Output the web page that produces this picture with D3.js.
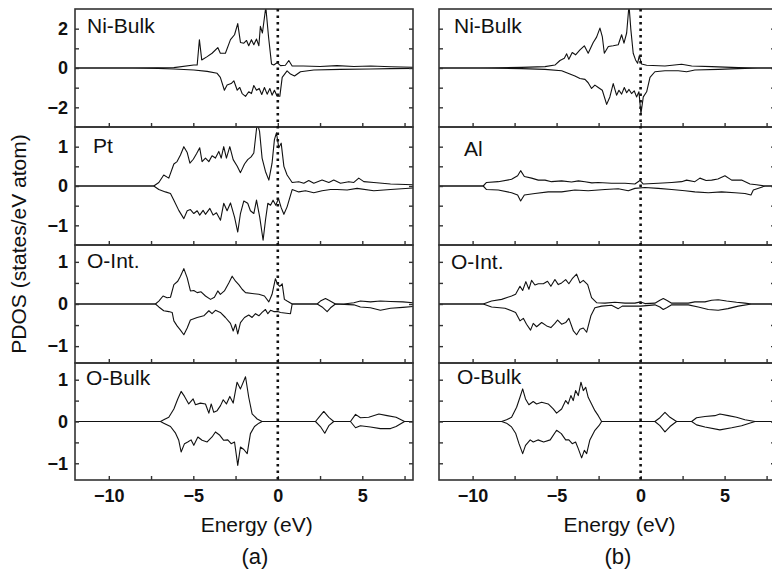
<!DOCTYPE html>
<html lang="en">
<head>
<meta charset="UTF-8">
<title>PDOS</title>
<script src="https://d3js.org/d3.v7.min.js"></script>
<style>
  body { margin: 0; background: #fff; }
  svg { display: block; background: #fff; }
  text { font-family: "Liberation Sans", Arial, Helvetica, sans-serif; fill: #111; }
  .tick text { font-size: 18px; font-weight: bold; }
  .tick line { stroke: #333; stroke-width: 1.4; }
  .curve { fill: none; stroke: #111; stroke-width: 1.1; stroke-linejoin: round; }
  .frame { fill: none; stroke: #333; stroke-width: 1.6; }
  .panel-label { font-size: 21px; }
  .axis-title { font-size: 21px; }
  .tag { font-size: 22px; }
</style>
</head>
<body>
<svg width="772" height="570"></svg>
<script>
// ---- data: [energy (eV), PDOS] ----
// column (a)
var niBulkA_up = [[-12,0],[-8.6,0],[-7.1,0.01],[-6.15,0.02],[-4.97,0.15],[-4.77,0.15],[-4.64,1.44],[-4.5,0.41],[-4.18,0.58],[-3.89,0.75],[-3.55,1.04],[-3.4,0.75],[-3.1,0.75],[-2.8,1.44],[-2.56,1.69],[-2.37,2.26],[-2.21,1.3],[-2.01,1.26],[-1.85,1.4],[-1.72,1.13],[-1.56,1.44],[-1.42,1.18],[-1.26,1.47],[-1.12,1.13],[-1.03,2.12],[-0.91,1.78],[-0.71,3.1],[-0.55,1.6],[-0.37,0.2],[-0.24,0.15],[-0.04,0.27],[0.16,0.12],[0.45,0.14],[0.65,0.38],[0.85,0.1],[1.5,0.1],[2.5,0.08],[3.5,0.12],[4.5,0.08],[5.5,0.1],[6.7,0.06],[8,0.04]];
var niBulkA_dn = [[-12,0],[-8.6,0],[-7.1,-0.02],[-6.15,-0.05],[-4.97,-0.1],[-4.18,-0.17],[-3.59,-0.27],[-3.4,-0.48],[-3.16,-1.13],[-3.0,-0.87],[-2.76,-0.79],[-2.6,-0.65],[-2.4,-1.13],[-2.25,-0.99],[-2.11,-1.3],[-1.91,-1.44],[-1.72,-1.21],[-1.56,-1.3],[-1.42,-0.89],[-1.26,-1.13],[-1.1,-1.04],[-0.95,-1.35],[-0.79,-0.99],[-0.63,-1.33],[-0.47,-1.04],[-0.34,-1.38],[-0.2,-1.13],[-0.04,-1.44],[0.12,-1.44],[0.26,-0.48],[0.55,-0.15],[0.75,-0.31],[0.99,-0.41],[1.34,-0.19],[2.13,-0.1],[3.7,-0.07],[5.5,-0.05],[6.67,-0.03],[8,-0.02]];
var ptA_up = [[-12,0],[-7.34,0],[-7.04,0.09],[-6.75,0.28],[-6.45,0.2],[-6.15,0.56],[-5.96,0.62],[-5.76,0.79],[-5.56,1.0],[-5.36,0.85],[-5.2,0.58],[-5.0,0.68],[-4.81,0.82],[-4.62,0.97],[-4.48,0.62],[-4.28,0.71],[-4.08,0.62],[-3.89,0.77],[-3.69,0.71],[-3.49,0.88],[-3.35,0.71],[-3.2,1.0],[-3.04,0.71],[-2.84,1.0],[-2.64,0.67],[-2.4,0.5],[-2.21,0.34],[-1.97,0.56],[-1.78,0.67],[-1.58,0.74],[-1.42,0.84],[-1.22,1.6],[-1.08,1.39],[-0.93,0.71],[-0.73,0.37],[-0.53,0.15],[-0.34,0.58],[-0.2,1.18],[-0.08,1.35],[0.06,0.97],[0.2,1.09],[0.36,0.5],[0.55,0.28],[0.85,0.09],[1.24,0.11],[1.54,0.07],[1.83,0.14],[2.13,0.07],[2.62,0.15],[3.02,0.09],[3.31,0.15],[3.71,0.07],[4.2,0.11],[4.5,0.09],[4.79,0.2],[5.09,0.11],[5.68,0.09],[6.67,0.05],[8,0.03]];
var ptA_dn = [[-12,0],[-7.34,0],[-7.04,-0.09],[-6.65,-0.15],[-6.35,-0.19],[-6.15,-0.36],[-5.86,-0.62],[-5.56,-0.83],[-5.36,-0.63],[-5.17,-0.6],[-4.97,-0.7],[-4.77,-0.63],[-4.62,-0.74],[-4.42,-0.62],[-4.28,-0.72],[-4.02,-0.57],[-3.83,-0.74],[-3.63,-0.68],[-3.39,-0.87],[-3.2,-0.44],[-3.0,-0.63],[-2.8,-0.43],[-2.56,-0.79],[-2.37,-1.17],[-2.21,-0.7],[-2.01,-0.38],[-1.78,-0.44],[-1.62,-0.63],[-1.42,-0.7],[-1.26,-0.36],[-1.07,-0.79],[-0.87,-1.38],[-0.73,-0.87],[-0.59,-0.44],[-0.43,-0.49],[-0.28,-0.36],[-0.12,-0.49],[0.04,-0.32],[0.2,-0.55],[0.36,-0.72],[0.55,-0.53],[0.85,-0.09],[1.24,-0.15],[1.64,-0.12],[2.13,-0.17],[2.62,-0.12],[3.12,-0.09],[3.51,-0.09],[4.1,-0.1],[4.69,-0.06],[5.68,-0.12],[6.67,-0.09],[8,-0.05]];
var oIntA_up = [[-12,0],[-7.24,0],[-7.04,0.07],[-6.79,0.19],[-6.55,0.15],[-6.35,0.16],[-6.15,0.46],[-5.92,0.54],[-5.76,0.66],[-5.56,0.84],[-5.36,0.62],[-5.17,0.31],[-4.97,0.32],[-4.77,0.27],[-4.54,0.29],[-4.28,0.19],[-3.98,0.11],[-3.75,0.16],[-3.55,0.31],[-3.4,0.23],[-3.16,0.31],[-2.9,0.5],[-2.7,0.66],[-2.5,0.54],[-2.31,0.46],[-2.11,0.35],[-1.91,0.27],[-1.52,0.25],[-1.12,0.23],[-0.79,0.19],[-0.53,0.05],[-0.34,0.23],[-0.14,0.6],[0,0.46],[0.12,0.42],[0.26,0.48],[0.39,0.11],[0.55,0.07],[0.85,0],[2.33,0],[2.52,0.07],[2.82,0.13],[3.02,0.09],[3.41,0],[3.91,0],[4.5,0.03],[4.89,0.07],[5.48,0.05],[6.07,0.07],[6.67,0.06],[7.4,0.05],[8,0.03]];
var oIntA_dn = [[-12,0],[-7.24,0],[-7.04,-0.07],[-6.75,-0.16],[-6.45,-0.18],[-6.25,-0.2],[-6.15,-0.4],[-5.96,-0.52],[-5.76,-0.62],[-5.56,-0.73],[-5.36,-0.57],[-5.17,-0.38],[-4.77,-0.32],[-4.38,-0.28],[-4.08,-0.16],[-3.89,-0.23],[-3.69,-0.15],[-3.4,-0.2],[-3.1,-0.32],[-2.8,-0.46],[-2.64,-0.64],[-2.5,-0.48],[-2.37,-0.71],[-2.21,-0.44],[-1.97,-0.32],[-1.72,-0.26],[-1.52,-0.32],[-1.32,-0.23],[-1.12,-0.28],[-0.93,-0.2],[-0.73,-0.13],[-0.59,-0.23],[-0.43,-0.15],[-0.24,-0.18],[0,-0.18],[0.16,-0.2],[0.75,-0.23],[0.85,0],[2.33,0],[2.62,-0.07],[2.92,-0.18],[3.12,-0.09],[3.41,0],[4.5,-0.02],[4.89,-0.07],[5.48,-0.09],[6.07,-0.15],[6.67,-0.1],[7.4,-0.08],[8,-0.06]];
var oBulkA_up = [[-12,0],[-6.94,0],[-6.75,0.04],[-6.45,0.1],[-6.15,0.3],[-5.92,0.54],[-5.72,0.72],[-5.52,0.6],[-5.27,0.42],[-5.01,0.54],[-4.87,0.4],[-4.58,0.44],[-4.28,0.42],[-4.08,0.2],[-3.94,0.42],[-3.79,0.22],[-3.59,0.26],[-3.39,0.38],[-3.23,0.52],[-3.04,0.42],[-2.84,0.6],[-2.64,0.44],[-2.41,0.94],[-2.21,0.78],[-1.91,1.07],[-1.72,0.58],[-1.52,0.18],[-1.22,0.06],[-0.93,0],[2.23,0],[2.43,0.1],[2.72,0.24],[3.02,0.1],[3.31,0],[4.3,0],[4.6,0.17],[4.89,0.09],[5.38,0.1],[5.98,0.18],[6.47,0.14],[7.0,0.1],[7.5,0],[8,0]];
var oBulkA_dn = [[-12,0],[-6.94,0],[-6.75,-0.04],[-6.35,-0.12],[-6.05,-0.28],[-5.86,-0.45],[-5.72,-0.73],[-5.52,-0.53],[-5.33,-0.49],[-5.13,-0.44],[-4.97,-0.57],[-4.73,-0.37],[-4.48,-0.45],[-4.18,-0.49],[-3.89,-0.37],[-3.69,-0.25],[-3.43,-0.33],[-3.2,-0.45],[-2.96,-0.44],[-2.76,-0.53],[-2.56,-0.49],[-2.37,-1.05],[-2.21,-0.61],[-2.01,-0.67],[-1.81,-0.77],[-1.62,-0.29],[-1.38,-0.12],[-1.12,-0.04],[-0.93,0],[2.23,0],[2.52,-0.12],[2.78,-0.28],[3.02,-0.1],[3.31,0],[4.3,0],[4.6,-0.15],[4.89,-0.1],[5.48,-0.13],[6.07,-0.17],[6.67,-0.17],[7.0,-0.12],[7.5,0],[8,0]];

// column (b)
var niBulkB_up = [[-12,0],[-9.66,0],[-7.08,0.03],[-5.69,0.07],[-5.1,0.15],[-4.8,0.38],[-4.54,0.5],[-4.4,0.72],[-4.27,0.44],[-4.07,0.79],[-3.87,0.67],[-3.61,0.92],[-3.35,1.13],[-3.12,0.75],[-2.82,1.3],[-2.62,1.57],[-2.42,2.03],[-2.28,1.6],[-2.16,0.75],[-1.92,1.09],[-1.63,1.13],[-1.33,1.18],[-1.13,1.69],[-0.99,1.26],[-0.83,1.78],[-0.69,3.2],[-0.58,1.95],[-0.44,0.75],[-0.3,0.41],[-0.18,0.24],[-0.08,0.62],[0.06,0.2],[0.36,0.14],[1.45,0.1],[2.44,0.19],[3.04,0.1],[4.23,0.07],[5.81,0.02],[7.0,0],[8,0]];
var niBulkB_dn = [[-12,0],[-9.66,0],[-7.08,-0.03],[-5.69,-0.07],[-4.7,-0.14],[-4.21,-0.31],[-3.91,-0.41],[-3.61,-0.53],[-3.31,-0.58],[-3.12,-0.75],[-2.92,-1.04],[-2.72,-0.87],[-2.52,-0.99],[-2.28,-1.13],[-2.02,-1.85],[-1.83,-1.47],[-1.63,-0.79],[-1.43,-1.38],[-1.29,-1.13],[-1.13,-1.33],[-0.97,-0.99],[-0.83,-1.26],[-0.69,-1.09],[-0.54,-1.3],[-0.38,-1.16],[-0.24,-1.47],[-0.1,-1.21],[0.02,-2.32],[0.16,-1.47],[0.36,-1.21],[0.56,-0.48],[0.85,-0.19],[1.45,-0.14],[2.24,-0.14],[2.74,-0.19],[3.23,-0.1],[4.62,-0.07],[5.81,-0.03],[7.0,0],[8,0]];
var alB_up = [[-12,0],[-9.37,0],[-9.17,0.09],[-8.47,0.11],[-7.68,0.17],[-7.32,0.26],[-7.14,0.39],[-6.92,0.24],[-6.49,0.2],[-6.09,0.15],[-5.69,0.15],[-5.3,0.11],[-4.7,0.13],[-4.11,0.1],[-3.7,0.13],[-3.31,0.11],[-2.9,0.08],[-2.52,0.09],[-1.73,0.07],[-0.93,0.07],[-0.34,0.05],[-0.04,0.14],[0.16,0.05],[1.05,0.07],[1.85,0.09],[2.44,0.11],[2.74,0.15],[3.23,0.11],[3.53,0.2],[3.9,0.14],[4.23,0.15],[4.6,0.18],[5.02,0.26],[5.42,0.15],[6.01,0.15],[6.51,0.05],[6.9,0.03],[7.4,0],[8,0]];
var alB_dn = [[-12,0],[-9.37,0],[-9.17,-0.09],[-8.47,-0.1],[-7.68,-0.17],[-7.32,-0.23],[-7.14,-0.38],[-6.92,-0.23],[-6.29,-0.19],[-5.5,-0.15],[-4.7,-0.15],[-3.91,-0.1],[-3.12,-0.12],[-2.12,-0.09],[-1.33,-0.07],[-0.73,-0.12],[-0.34,-0.06],[0.26,-0.04],[1.05,-0.06],[1.85,-0.09],[2.64,-0.12],[3.23,-0.15],[4.03,-0.17],[4.82,-0.15],[5.62,-0.17],[6.21,-0.19],[6.57,-0.23],[6.71,-0.1],[7.2,-0.03],[7.4,0],[8,0]];
var oIntB_up = [[-12,0],[-9.37,0],[-8.87,0.07],[-8.27,0.11],[-7.68,0.19],[-7.44,0.23],[-7.18,0.42],[-7.02,0.32],[-6.83,0.53],[-6.65,0.35],[-6.49,0.56],[-6.29,0.45],[-6.09,0.48],[-5.79,0.48],[-5.54,0.54],[-5.34,0.42],[-5.1,0.58],[-4.9,0.46],[-4.7,0.5],[-4.46,0.58],[-4.27,0.48],[-4.07,0.6],[-3.81,0.71],[-3.61,0.5],[-3.41,0.56],[-3.15,0.46],[-2.92,0.15],[-2.62,0.03],[-2.12,0.02],[-1.53,0.04],[-0.93,0.02],[-0.34,0.02],[0,0.05],[0.26,0.01],[0.85,0.02],[1.15,0.09],[1.35,0.13],[1.55,0.09],[1.85,0.02],[2.84,0.02],[3.23,0.05],[3.83,0.05],[4.23,0.09],[4.62,0.1],[5.12,0.07],[5.71,0.04],[6.21,0.02],[6.61,0],[8,0]];
var oIntB_dn = [[-12,0],[-9.37,0],[-8.87,-0.07],[-8.07,-0.1],[-7.68,-0.16],[-7.44,-0.2],[-7.18,-0.4],[-6.98,-0.34],[-6.79,-0.48],[-6.55,-0.62],[-6.39,-0.46],[-6.19,-0.54],[-5.89,-0.44],[-5.59,-0.52],[-5.34,-0.56],[-5.1,-0.46],[-4.94,-0.38],[-4.7,-0.48],[-4.46,-0.44],[-4.27,-0.34],[-4.0,-0.64],[-3.81,-0.73],[-3.61,-0.6],[-3.41,-0.57],[-3.21,-0.67],[-2.96,-0.28],[-2.72,-0.09],[-2.32,-0.05],[-1.73,-0.03],[-1.33,-0.11],[-1.09,-0.05],[-0.54,-0.05],[0,-0.05],[0.85,-0.02],[1.15,-0.07],[1.35,-0.13],[1.55,-0.09],[1.85,-0.02],[2.84,-0.02],[3.43,-0.07],[4.03,-0.13],[4.62,-0.15],[5.2,-0.11],[5.81,-0.05],[6.61,0],[8,0]];
var oBulkB_up = [[-12,0],[-8.27,0],[-7.98,0.04],[-7.68,0.1],[-7.38,0.34],[-7.18,0.58],[-7.02,0.78],[-6.85,0.54],[-6.65,0.4],[-6.39,0.48],[-6.19,0.42],[-5.89,0.46],[-5.5,0.42],[-5.2,0.3],[-5.0,0.2],[-4.7,0.3],[-4.46,0.5],[-4.31,0.42],[-4.15,0.62],[-4.01,0.5],[-3.87,0.74],[-3.71,0.62],[-3.55,0.94],[-3.41,0.74],[-3.27,0.82],[-3.12,0.58],[-2.92,0.42],[-2.72,0.26],[-2.52,0.14],[-2.32,0],[0.85,0],[1.15,0.09],[1.45,0.22],[1.75,0.1],[2.14,0],[3.04,0],[3.33,0.09],[3.83,0.12],[4.42,0.14],[4.72,0.18],[5.22,0.14],[5.71,0.1],[6.21,0.04],[6.81,0],[8,0]];
var oBulkB_dn = [[-12,0],[-8.27,0],[-7.98,-0.04],[-7.68,-0.13],[-7.44,-0.28],[-7.24,-0.53],[-7.02,-0.77],[-6.85,-0.57],[-6.57,-0.44],[-6.39,-0.49],[-6.11,-0.44],[-5.77,-0.49],[-5.38,-0.44],[-5.0,-0.21],[-4.72,-0.29],[-4.46,-0.44],[-4.27,-0.44],[-4.07,-0.53],[-3.87,-0.49],[-3.71,-0.65],[-3.51,-0.87],[-3.35,-0.69],[-3.21,-0.77],[-3.02,-0.44],[-2.72,-0.21],[-2.48,-0.1],[-2.32,0],[0.85,0],[1.15,-0.1],[1.45,-0.25],[1.75,-0.12],[2.14,0],[3.04,0],[3.33,-0.08],[3.83,-0.13],[4.72,-0.2],[5.42,-0.15],[6.01,-0.1],[6.81,0],[8,0]];

// axis ranges and tick values (per row)
var energyDomain = [-12, 8];
var energyTicks = [-10, -7.5, -5, -2.5, 0, 2.5, 5, 7.5];
var energyLabels = [-10, -5, 0, 5];
var rowDomains = [[-3, 3], [-1.5, 1.5], [-1.4, 1.4], [-1.4, 1.4]];
var rowTicks = [[-2, -1, 0, 1, 2], [-1, -0.5, 0, 0.5, 1], [-1, -0.5, 0, 0.5, 1], [-1, -0.5, 0, 0.5, 1]];
var rowLabels = [[-2, 0, 2], [-1, 0, 1], [-1, 0, 1], [-1, 0, 1]];
var namesA = ['Ni-Bulk', 'Pt', 'O-Int.', 'O-Bulk'];
var namesB = ['Ni-Bulk', 'Al', 'O-Int.', 'O-Bulk'];

// ---- layout ----
var panelTops = [9, 127, 245, 363];
var panelBottom = 480;
var columns = [
  { x0: 75, x1: 413, tag: '(a)', names: namesA, showY: true,
    up: [niBulkA_up, ptA_up, oIntA_up, oBulkA_up],
    dn: [niBulkA_dn, ptA_dn, oIntA_dn, oBulkA_dn],
    labelOff: [[12, 24], [18, 26], [12, 23], [11, 22]] },
  { x0: 439, x1: 775, tag: '(b)', names: namesB, showY: false,
    up: [niBulkB_up, alB_up, oIntB_up, oBulkB_up],
    dn: [niBulkB_dn, alB_dn, oIntB_dn, oBulkB_dn],
    labelOff: [[15, 24], [25, 29], [12, 24], [18, 21]] }
];

const svg = d3.select('svg');

columns.forEach(function (col, ci) {
  var x = d3.scaleLinear().domain(energyDomain).range([col.x0, col.x1]);

  for (var r = 0; r < 4; r++) {
    var top = panelTops[r];
    var bottom = r < 3 ? panelTops[r + 1] : panelBottom;
    var y = d3.scaleLinear().domain(rowDomains[r]).range([bottom, top]);
    var labs = rowLabels[r];

    // clip so peaks stop at the frame
    var clipId = 'clip-' + ci + '-' + r;
    svg.append('clipPath').attr('id', clipId)
      .append('rect')
      .attr('x', col.x0).attr('y', top)
      .attr('width', col.x1 - col.x0).attr('height', bottom - top);

    var line = d3.line().x(d => x(d[0])).y(d => y(d[1]));
    var g = svg.append('g').attr('clip-path', 'url(#' + clipId + ')');
    g.append('path').attr('class', 'curve').attr('d', line(col.up[r]));
    g.append('path').attr('class', 'curve').attr('d', line(col.dn[r]));

    // left axis, ticks inside
    var left = svg.append('g')
      .attr('transform', 'translate(' + col.x0 + ',0)')
      .call(d3.axisLeft(y).tickValues(rowTicks[r]).tickSize(-4).tickPadding(7)
        .tickFormat(d => (col.showY && labs.indexOf(d) >= 0) ? d3.format('d')(d) : ''));
    left.select('.domain').remove();

    // right axis, ticks inside
    var right = svg.append('g')
      .attr('transform', 'translate(' + col.x1 + ',0)')
      .call(d3.axisRight(y).tickValues(rowTicks[r]).tickSize(-4).tickFormat(''));
    right.select('.domain').remove();

    // bottom axis, ticks inside; labels only on the last row
    var bot = svg.append('g')
      .attr('transform', 'translate(0,' + bottom + ')')
      .call(d3.axisBottom(x).tickValues(energyTicks).tickSize(-4).tickPadding(9)
        .tickFormat(d => (r === 3 && energyLabels.indexOf(d) >= 0) ? d3.format('d')(d) : ''));
    bot.select('.domain').remove();

    svg.append('rect').attr('class', 'frame')
      .attr('x', col.x0).attr('y', top)
      .attr('width', col.x1 - col.x0).attr('height', bottom - top);

    svg.append('text').attr('class', 'panel-label')
      .attr('x', col.x0 + col.labelOff[r][0])
      .attr('y', top + col.labelOff[r][1])
      .text(col.names[r]);
  }

  // Fermi level
  svg.append('line')
    .attr('x1', x(0)).attr('x2', x(0))
    .attr('y1', panelTops[0]).attr('y2', panelBottom + 2)
    .attr('stroke', '#111').attr('stroke-width', 2.6)
    .attr('stroke-dasharray', '2.4,4.1');

  svg.append('text').attr('class', 'axis-title')
    .attr('x', x(-1.25)).attr('y', 532)
    .attr('text-anchor', 'middle')
    .text('Energy (eV)');

  svg.append('text').attr('class', 'tag')
    .attr('x', x(-1.35)).attr('y', 564)
    .attr('text-anchor', 'middle')
    .text(col.tag);
});

// Y label
svg.append('text').attr('class', 'axis-title')
  .attr('transform', 'translate(26,244) rotate(-90)')
  .attr('text-anchor', 'middle')
  .text('PDOS (states/eV atom)');
</script>
</body>
</html>
